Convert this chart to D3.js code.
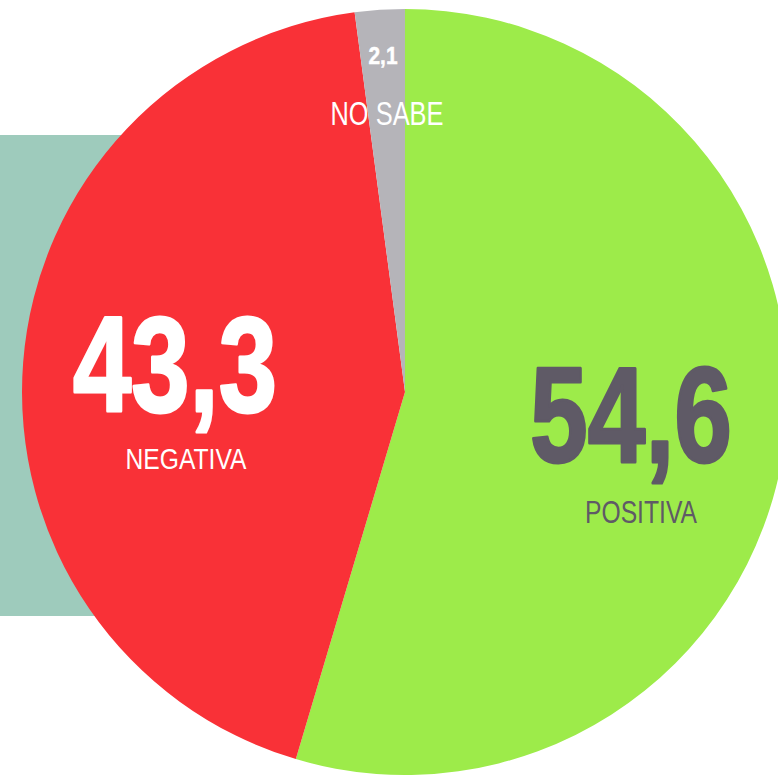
<!doctype html>
<html lang="es">
<head>
  <meta charset="utf-8">
  <script src="https://cdnjs.cloudflare.com/ajax/libs/d3/7.8.5/d3.min.js"></script>
  <style>
    html, body {margin:0; padding:0; background:#fff;}
    svg {display:block;}
    text {font-family:"Liberation Sans Narrow", "Arial Narrow", "Liberation Sans", sans-serif;}
  </style>
</head>
<body>
<div id="view"></div>
<script>
// data
var categories = ["POSITIVA", "NEGATIVA", "NO SABE"];
var values = [54.6, 43.3, 2.1];
var valueLabels = ["54,6", "43,3", "2,1"];
var colors = ["#9deb4a", "#f93137", "#b5b4b9"];

var width = 778, height = 775;
var cx = 405, cy = 392, r = 383;

var svg = d3.select("#view").append("svg")
    .attr("width", width)
    .attr("height", height);

// teal block behind the pie
svg.append("rect")
    .attr("x", 0).attr("y", 135)
    .attr("width", 200).attr("height", 481)
    .attr("fill", "#9ecbbc");

var pie = d3.pie().sort(null).value(function(d){ return d; });
var arc = d3.arc().innerRadius(0).outerRadius(r);
var arcs = pie(values);

var g = svg.append("g").attr("transform", "translate(" + cx + "," + cy + ")");

g.selectAll("path").data(arcs).enter().append("path")
    .attr("d", arc)
    .attr("fill", function(d, i){ return colors[i]; });

// label layout per slice (value + category)
var labelPos = [
  {vx: 631, vy: 462, vs: 136, vw: 202, vc: "#5f5a66", lx: 641, ly: 523, ls: 31, lw: 112, lc: "#5f5a66"},
  {vx: 175, vy: 411, vs: 136, vw: 204, vc: "#ffffff", lx: 186, ly: 469, ls: 30, lw: 121, lc: "#ffffff"},
  {vx: 383, vy: 64,  vs: 24,  vw: 29,  vc: "#ffffff", lx: 387, ly: 125, ls: 34, lw: 113, lc: "#ffffff"}
];

var labels = svg.selectAll("g.lbl").data(arcs).enter().append("g").attr("class", "lbl");

labels.append("text")
    .attr("x", function(d, i){ return labelPos[i].vx; })
    .attr("y", function(d, i){ return labelPos[i].vy; })
    .attr("text-anchor", "middle")
    .attr("font-weight", "bold")
    .attr("font-size", function(d, i){ return labelPos[i].vs; })
    .attr("textLength", function(d, i){ return labelPos[i].vw; })
    .attr("lengthAdjust", "spacingAndGlyphs")
    .attr("fill", function(d, i){ return labelPos[i].vc; })
    .attr("stroke", function(d, i){ return labelPos[i].vc; })
    .attr("stroke-width", function(d, i){ return i < 2 ? 3 : 0.5; })
    .attr("stroke-linejoin", "round")
    .text(function(d, i){ return valueLabels[i]; });

labels.append("text")
    .attr("x", function(d, i){ return labelPos[i].lx; })
    .attr("y", function(d, i){ return labelPos[i].ly; })
    .attr("text-anchor", "middle")
    .attr("font-size", function(d, i){ return labelPos[i].ls; })
    .attr("textLength", function(d, i){ return labelPos[i].lw; })
    .attr("lengthAdjust", "spacingAndGlyphs")
    .attr("fill", function(d, i){ return labelPos[i].lc; })
    .text(function(d, i){ return categories[i]; });
</script>
</body>
</html>
